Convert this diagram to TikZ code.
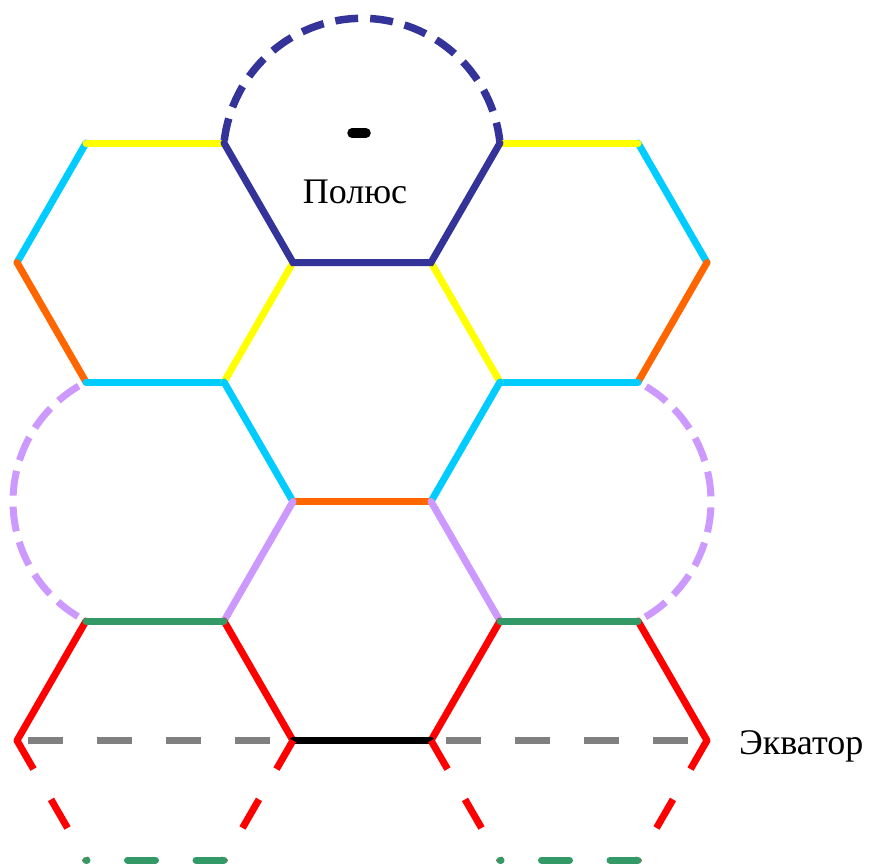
\documentclass[tikz,border=0pt]{standalone}
\usepackage{fontspec}
\setmainfont{Liberation Serif}
\definecolor{cYellow}{HTML}{FFFF00}
\definecolor{cCyan}{HTML}{00CCFF}
\definecolor{cOrange}{HTML}{FF6600}
\definecolor{cNavy}{HTML}{333399}
\definecolor{cLilac}{HTML}{CC99FF}
\definecolor{cGreen}{HTML}{339966}
\definecolor{cRed}{HTML}{FF0000}
\definecolor{cGray}{HTML}{808080}
\begin{document}
\begin{tikzpicture}[x=1pt,y=-1pt,
  edge/.style={line width=7pt,line cap=round},
  reddash/.style={line width=7pt,line cap=butt,cRed,dash pattern=on 33pt off 35pt},
  graydash/.style={line width=7pt,line cap=butt,cGray,dash pattern=on 35pt off 34pt},
  greendash/.style={line width=7pt,line cap=round,cGreen,dash pattern=on 28pt off 40.5pt,yshift=-2pt},
  lilacarc/.style={line width=7pt,line cap=butt,cLilac,dash pattern=on 25pt off 11pt,dash phase=26.8pt},
  navyarc/.style={line width=7.5pt,line cap=butt,cNavy,dash pattern=on 23pt off 12pt,dash phase=33pt},
  label/.style={inner sep=0pt,font=\fontsize{36}{40}\selectfont}]
\useasboundingbox (0,0) rectangle (869,865);

% lattice vertices: columns a..h, rows 0..6
\def\xa{17}\def\xb{86}\def\xc{224}\def\xd{293}
\def\xe{431}\def\xf{500}\def\xg{638}\def\xh{707}
\def\ya{143}\def\yb{262.5}\def\yc{382}\def\yd{501.5}
\def\ye{621}\def\yf{740.5}\def\yg{860}
\coordinate (b0) at (\xb,\ya); \coordinate (c0) at (\xc,\ya);
\coordinate (f0) at (\xf,\ya); \coordinate (g0) at (\xg,\ya);
\coordinate (a1) at (\xa,\yb); \coordinate (d1) at (\xd,\yb);
\coordinate (e1) at (\xe,\yb); \coordinate (h1) at (\xh,\yb);
\coordinate (b2) at (\xb,\yc); \coordinate (c2) at (\xc,\yc);
\coordinate (f2) at (\xf,\yc); \coordinate (g2) at (\xg,\yc);
\coordinate (d3) at (\xd,\yd); \coordinate (e3) at (\xe,\yd);
\coordinate (b4) at (\xb,\ye); \coordinate (c4) at (\xc,\ye);
\coordinate (f4) at (\xf,\ye); \coordinate (g4) at (\xg,\ye);
\coordinate (a5) at (\xa,\yf); \coordinate (d5) at (\xd,\yf);
\coordinate (e5) at (\xe,\yf); \coordinate (h5) at (\xh,\yf);
\coordinate (b6) at (\xb,\yg); \coordinate (c6) at (\xc,\yg);
\coordinate (f6) at (\xf,\yg); \coordinate (g6) at (\xg,\yg);

% dashed closing arcs
\draw[navyarc] plot[domain=185.8:354.2,samples=90,smooth] ({362+138.7*cos(\x)},{157+138.7*sin(\x)});
\draw[lilacarc] plot[domain=117.16:242.84,samples=70,smooth] ({147.31+134.31*cos(\x)},{501.5+134.31*sin(\x)});
\draw[lilacarc] plot[domain=-62.84:62.84,samples=70,smooth] ({576.69+134.31*cos(\x)},{501.5+134.31*sin(\x)});

% solid edges
\draw[edge,cCyan] (b0) -- (a1);
\draw[edge,cCyan] (g0) -- (h1);
\draw[edge,cOrange] (a1) -- (b2);
\draw[edge,cOrange] (h1) -- (g2);
\draw[edge,cCyan] (b2) -- (c2);
\draw[edge,cCyan] (f2) -- (g2);
\draw[edge,cYellow] (b0) -- (c0);
\draw[edge,cYellow] (f0) -- (g0);
\draw[edge,cYellow] (c2) -- (d1);
\draw[edge,cYellow] (e1) -- (f2);
\draw[edge,cNavy] (c0) -- (d1) -- (e1) -- (f0);
\draw[edge,cCyan] (c2) -- (d3);
\draw[edge,cCyan] (f2) -- (e3);
\draw[edge,cOrange] (d3) -- (e3);
\draw[edge,cLilac] (d3) -- (c4);
\draw[edge,cLilac] (e3) -- (f4);
\draw[edge,cRed] (b4) -- (a5);
\draw[edge,cRed] (c4) -- (d5);
\draw[edge,cRed] (f4) -- (e5);
\draw[edge,cRed] (g4) -- (h5);
\draw[edge,cGreen] (b4) -- (c4);
\draw[edge,cGreen] (f4) -- (g4);
\draw[edge,black] (d5) -- (e5);

% equator and lower hemisphere
\draw[graydash,dash phase=58pt] (a5) -- (d5);
\draw[graydash,dash phase=54pt] (e5) -- (h5);
\draw[reddash] (a5) -- (b6);
\draw[reddash] (d5) -- (c6);
\draw[reddash] (e5) -- (f6);
\draw[reddash] (h5) -- (g6);
\draw[greendash] (c6) -- (b6);
\draw[greendash] (g6) -- (f6);

% pole mark and labels
\coordinate (mL) at (352,133); \coordinate (mR) at (366,133);
\draw[line width=9.5pt,line cap=round,black] (mL) -- (mR);
\node[label,anchor=base] (pole) at (355,203) {Полюс};
\node[label,anchor=base west] (equator) at (739,754) {Экватор};
\end{tikzpicture}
\end{document}
